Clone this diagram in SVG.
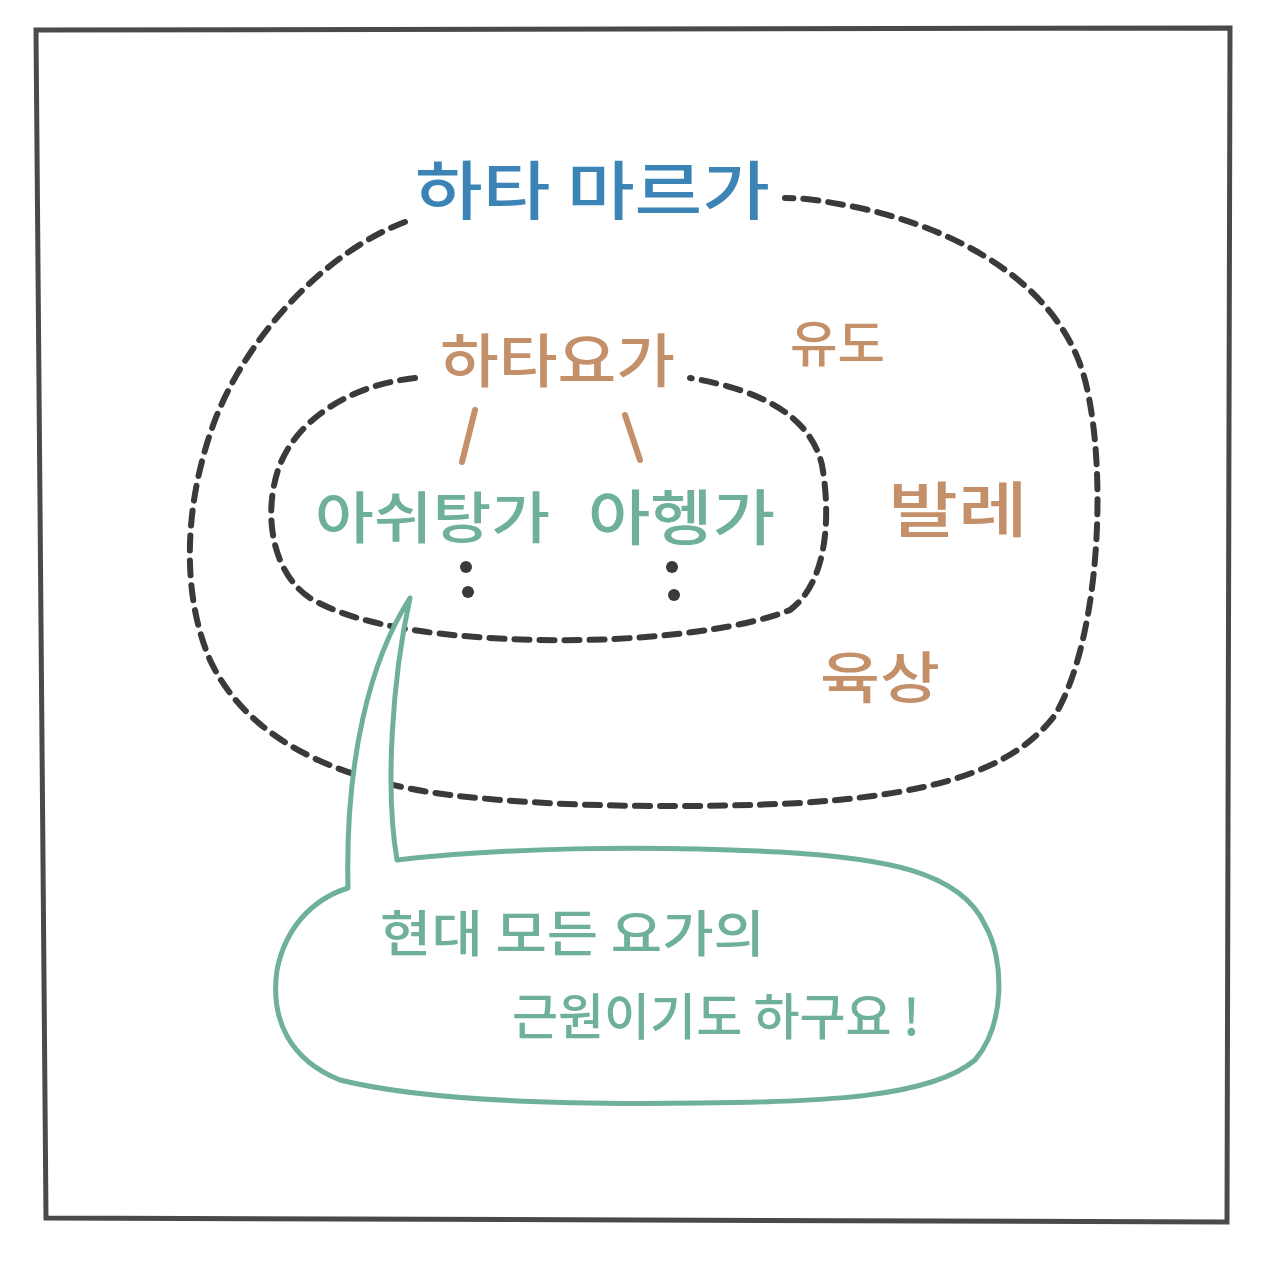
<svg xmlns="http://www.w3.org/2000/svg" width="1280" height="1287" viewBox="0 0 1280 1287">
<style>
.t{font-family:"Noto Sans CJK KR","Noto Sans",sans-serif;font-weight:500}
.blue{fill:#3c84b6}
.brown{fill:#c4906a}
.teal{fill:#6fb09a}
.dash{fill:none;stroke:#3a3a3a;stroke-width:6;stroke-dasharray:15 10;stroke-linecap:round}
.frame{fill:none;stroke:#4a4a4a;stroke-width:5}
.bubble{fill:#ffffff;stroke:#6fb09a;stroke-width:5;stroke-linejoin:round;stroke-linecap:round}
</style>
<rect width="1280" height="1287" fill="#ffffff"/>
<path class="frame" d="M36,30 L1230,28 L1227,1222 L46,1218 Z"/>
<g id="connectors">
<path id="outer-loop" class="dash" d="M405,222 C330,250 250,330 215,420 C185,500 180,590 210,660 C245,735 330,780 450,795 C560,808 700,808 800,803 C920,795 1010,775 1055,715 C1100,640 1108,470 1085,380 C1060,285 960,230 860,208 C825,201 805,198 785,198"/>
<path id="inner-loop" class="dash" d="M415,378 C350,385 295,420 278,470 C262,520 275,575 310,598 C360,628 450,638 540,640 C640,642 740,630 790,610 C830,580 830,510 822,465 C810,415 760,390 690,378"/>
<path d="M475,410 L462,462" fill="none" stroke="#c4906a" stroke-width="6" stroke-linecap="round"/>
<path d="M625,415 L640,460" fill="none" stroke="#c4906a" stroke-width="6" stroke-linecap="round"/>
<g fill="#3a3a3a">
<circle cx="466" cy="567" r="6"/>
<circle cx="468" cy="592" r="6"/>
<circle cx="672" cy="567" r="6"/>
<circle cx="674" cy="595" r="6"/>
</g>
</g>
<g id="speech-bubble">
<path class="bubble" d="M410,598 C370,660 345,760 348,888 C310,900 285,930 277,970 C270,1020 290,1060 340,1080 C420,1100 560,1105 700,1103 C820,1102 930,1098 975,1060 C1005,1025 1005,960 985,925 C960,870 880,858 780,852 C640,845 500,848 397,860 C385,790 392,680 410,598 Z"/>
<text class="t teal" x="380" y="952" font-size="50" textLength="385" lengthAdjust="spacingAndGlyphs">현대 모든 요가의</text>
<text class="t teal" x="512" y="1035" font-size="50" textLength="408" lengthAdjust="spacingAndGlyphs">근원이기도 하구요 !</text>
</g>
<g id="node-hatha-marga">
<text class="t blue" x="415" y="214" font-size="64" textLength="355" lengthAdjust="spacingAndGlyphs">하타 마르가</text>
</g>
<g id="node-hatha-yoga">
<text class="t brown" x="440" y="382" font-size="58" textLength="235" lengthAdjust="spacingAndGlyphs">하타요가</text>
</g>
<g id="node-judo">
<text class="t brown" x="790" y="362" font-size="50" textLength="95" lengthAdjust="spacingAndGlyphs">유도</text>
</g>
<g id="node-ballet">
<text class="t brown" x="888" y="532" font-size="60" textLength="140" lengthAdjust="spacingAndGlyphs">발레</text>
</g>
<g id="node-athletics">
<text class="t brown" x="820" y="698" font-size="56" textLength="120" lengthAdjust="spacingAndGlyphs">육상</text>
</g>
<g id="node-ashtanga">
<text class="t teal" x="315" y="538" font-size="56" textLength="235" lengthAdjust="spacingAndGlyphs">아쉬탕가</text>
</g>
<g id="node-iyengar">
<text class="t teal" x="588" y="540" font-size="60" textLength="187" lengthAdjust="spacingAndGlyphs">아헹가</text>
</g>
</svg>
